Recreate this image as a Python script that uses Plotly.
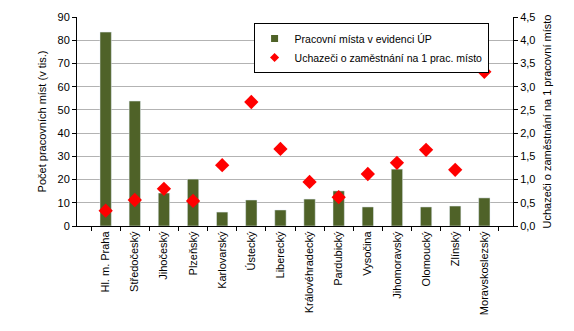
import plotly.graph_objects as go

regions = ["Hl. m. Praha", "Středočeský", "Jihočeský", "Plzeňský", "Karlovarský",
           "Ústecký", "Liberecký", "Královéhradecký", "Pardubický", "Vysočina",
           "Jihomoravský", "Olomoucký", "Zlínský", "Moravskoslezský"]
jobs = [83.5, 53.8, 14.2, 20.2, 6.0, 11.2, 6.9, 11.6, 15.1, 8.2, 24.5, 8.2, 8.6, 12.1]
applicants_per_job = [0.33, 0.56, 0.80, 0.54, 1.31, 2.67, 1.66, 0.95, 0.62, 1.12, 1.36, 1.64, 1.21, 3.32]

left_ticks = list(range(0, 91, 10))
right_ticks = [i * 0.5 for i in range(10)]

font = "Liberation Sans, Arial, sans-serif"
green = "#4F6228"
red = "#FF0000"

fig = go.Figure()
fig.add_trace(go.Bar(x=regions, y=jobs, marker_color=green, width=0.39,
                     showlegend=False, yaxis="y"))
fig.add_trace(go.Scatter(x=regions, y=applicants_per_job, mode="markers",
                         marker=dict(symbol="diamond", size=11, color=red),
                         showlegend=False, yaxis="y2"))
# legend entries
fig.add_trace(go.Scatter(x=[None], y=[None], mode="markers", name="Pracovní místa v evidenci ÚP",
                         marker=dict(symbol="square", size=7, color=green)))
fig.add_trace(go.Scatter(x=[None], y=[None], mode="markers", name="Uchazeči o zaměstnání na 1 prac. místo",
                         marker=dict(symbol="diamond", size=7, color=red), yaxis="y2"))

fig.update_layout(
    width=574, height=331,
    margin=dict(l=77, r=61, t=17, b=105),
    paper_bgcolor="white", plot_bgcolor="white",
    font=dict(family=font, size=11, color="black"),
    separators=", ",
    xaxis=dict(type="category", tickangle=-90, showline=True, linecolor="black",
               ticks="outside", tickson="boundaries", ticklen=4, tickcolor="black",
               showgrid=False, tickfont=dict(size=11)),
    yaxis=dict(range=[0, 90], tickvals=left_ticks, showline=True, linecolor="black",
               ticks="outside", ticklen=4, tickcolor="black",
               showgrid=True, gridcolor="#B3B3B3", gridwidth=1, zeroline=False,
               title=dict(text="Počet pracovních míst (v tis.)", font=dict(size=11), standoff=8)),
    yaxis2=dict(range=[0, 4.5], tickvals=right_ticks, tickformat=".1f", overlaying="y",
                side="right", showline=True, linecolor="black", ticks="outside", ticklen=4,
                tickcolor="black", showgrid=False, zeroline=False,
                title=dict(text="Uchazeči o zaměstnání na 1 pracovní místo", font=dict(size=11), standoff=8)),
    legend=dict(x=0.405, y=0.971, xanchor="left", yanchor="top", bordercolor="black",
                borderwidth=1, bgcolor="white", font=dict(size=10.5), tracegroupgap=0,
                itemwidth=30),
)

fig.write_html("out.html")
